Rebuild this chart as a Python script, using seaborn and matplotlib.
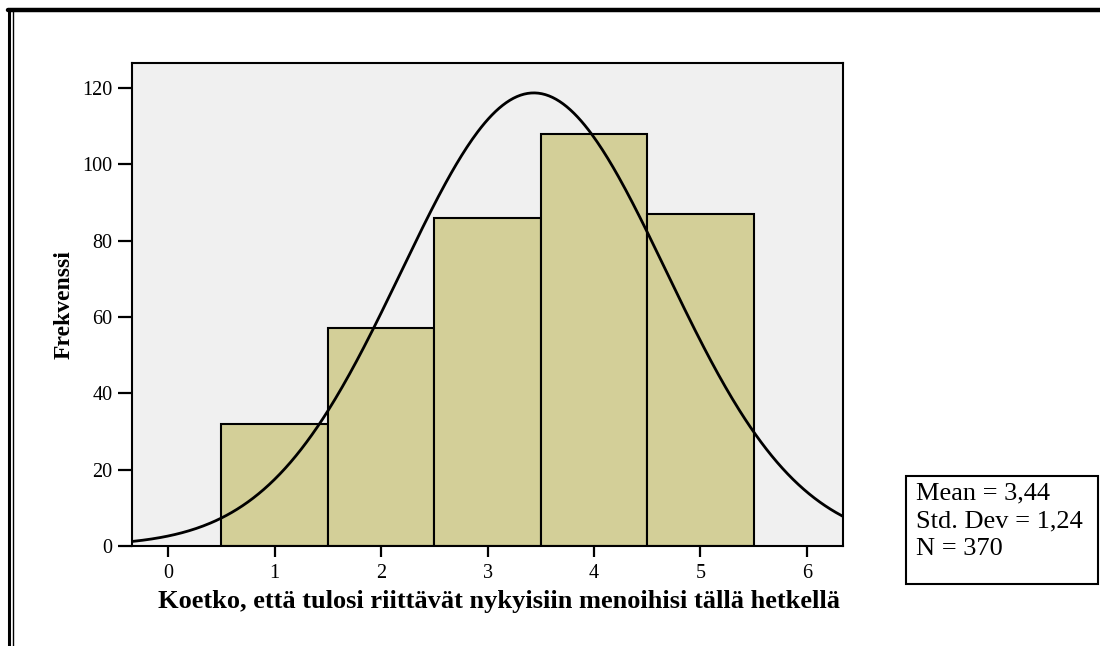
import numpy as np
import pandas as pd
import matplotlib
matplotlib.use("Agg")
import matplotlib.pyplot as plt
from matplotlib.patches import Rectangle
from matplotlib.lines import Line2D
import seaborn as sns

# ---- data ----
scores = [1, 2, 3, 4, 5]
counts = [32, 57, 86, 108, 87]
x_ticks = [0, 1, 2, 3, 4, 5, 6]
y_ticks = [0, 20, 40, 60, 80, 100, 120]
x_label = "Koetko, että tulosi riittävät nykyisiin menoihisi tällä hetkellä"
y_label = "Frekvenssi"

df = pd.DataFrame({"score": scores, "count": counts})

sns.set_style("white")
plt.rcParams["font.family"] = ["Liberation Serif", "DejaVu Serif"]
plt.rcParams["text.color"] = "black"
plt.rcParams["axes.labelcolor"] = "black"
plt.rcParams["xtick.color"] = "black"
plt.rcParams["ytick.color"] = "black"

fig = plt.figure(figsize=(11, 6.46), dpi=100)
ax = fig.add_axes([132 / 1100, 100 / 646, 711 / 1100, 483 / 646])
ax.set_facecolor("#f0f0f0")

sns.histplot(data=df, x="score", weights="count", discrete=True,
             color="#d3cf98", edgecolor="black", linewidth=1.5, alpha=1,
             ax=ax)

# normal curve from the data's statistics
vals = np.repeat(scores, counts)
n = len(vals)
mean = vals.mean()
sd = vals.std(ddof=1)
xs = np.linspace(-0.34, 6.34, 400)
ys = n * 1.0 * np.exp(-0.5 * ((xs - mean) / sd) ** 2) / (sd * np.sqrt(2 * np.pi))
sns.lineplot(x=xs, y=ys, color="black", linewidth=2, ax=ax)

ax.set_xlim(-0.34, 6.34)
ax.set_ylim(0, 126.5)
ax.set_xticks(x_ticks)
ax.set_yticks(y_ticks)
ax.tick_params(axis="y", direction="out", length=10, width=1.6, pad=4,
               labelsize=14.5, left=True, labelcolor="black")
ax.tick_params(axis="x", direction="out", length=8, width=1.6, pad=5,
               labelsize=14.5, bottom=True, labelcolor="black")
for s in ax.spines.values():
    s.set_visible(True)
    s.set_color("black")
    s.set_linewidth(1.5)

ax.set_xlabel(x_label, fontsize=19, fontweight="bold", color="black")
ax.set_ylabel(y_label, fontsize=17, fontweight="bold", color="black")
ax.xaxis.set_label_coords(0.516, -0.092)
ax.yaxis.set_label_coords(-0.081, 0.5)

# stats box
fig.patches.append(Rectangle((906 / 1100, 62 / 646), 192 / 1100, 108 / 646,
                             transform=fig.transFigure, facecolor="white",
                             edgecolor="black", linewidth=1.5))
stats = "Mean = {}\nStd. Dev = {}\nN = {}".format(
    f"{mean:.2f}".replace(".", ","), f"{sd:.2f}".replace(".", ","), n)
fig.text(916 / 1100, 1 - 482 / 646, stats, fontsize=19, va="top",
         ha="left", linespacing=1.36, color="black")

# outer frame lines
fig.lines.append(Line2D([8 / 1100, 1], [1 - 10 / 646, 1 - 10 / 646],
                        transform=fig.transFigure, color="black", linewidth=3.2))
fig.lines.append(Line2D([9 / 1100, 9 / 1100], [0, 1 - 8.5 / 646],
                        transform=fig.transFigure, color="black", linewidth=2.2))
fig.lines.append(Line2D([12.5 / 1100, 12.5 / 1100], [0, 1 - 10 / 646],
                        transform=fig.transFigure, color="black", linewidth=1))

fig.savefig("out.png", dpi=100)
